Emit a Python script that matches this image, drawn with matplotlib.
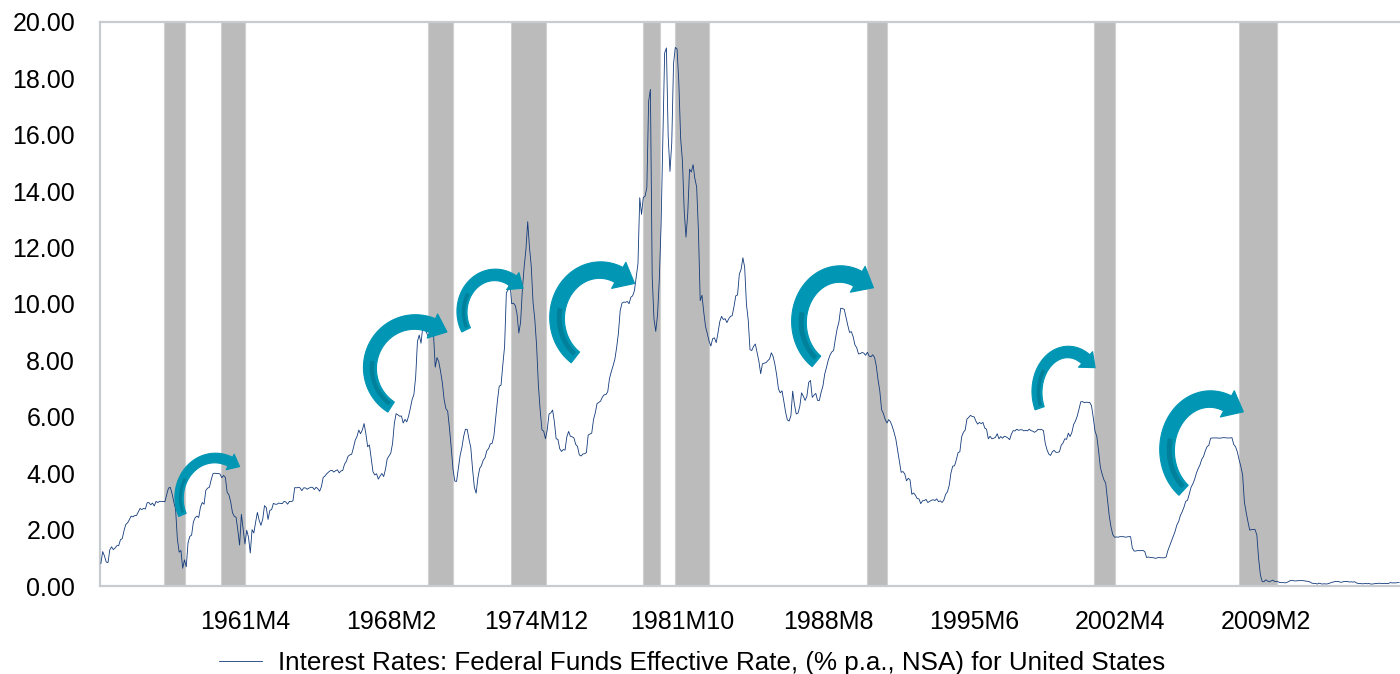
import numpy as np
import matplotlib
matplotlib.use('Agg')
import matplotlib.pyplot as plt
from matplotlib.patches import Polygon

plt.rcParams['font.family'] = ['Liberation Sans', 'DejaVu Sans']

# monthly effective fed funds rate, % p.a., starting 1954M7
start_year, start_month = 1954, 7
fed_funds = [
    0.80, 1.22, 1.07, 0.85, 0.83, 1.28,
    1.39, 1.29, 1.35, 1.43, 1.43, 1.64, 1.68, 1.96, 2.18, 2.24, 2.35, 2.48,
    2.45, 2.50, 2.50, 2.62, 2.75, 2.71, 2.75, 2.73, 2.95, 2.96, 2.88, 2.94,
    2.84, 3.00, 2.96, 3.00, 3.00, 3.00, 2.99, 3.24, 3.47, 3.50, 3.28, 2.98,
    2.72, 1.67, 1.20, 1.26, 0.63, 0.93, 0.68, 1.53, 1.76, 1.80, 2.27, 2.42,
    2.48, 2.43, 2.80, 2.96, 2.90, 3.39, 3.47, 3.50, 3.76, 3.98, 4.00, 3.99,
    3.99, 3.97, 3.84, 3.92, 3.85, 3.32, 3.23, 2.98, 2.60, 2.47, 2.44, 1.98,
    1.45, 2.54, 2.02, 1.49, 1.98, 1.73, 1.17, 2.00, 1.88, 2.26, 2.61, 2.33,
    2.15, 2.37, 2.85, 2.78, 2.36, 2.68, 2.71, 2.93, 2.90, 2.90, 2.94, 2.93,
    2.92, 3.00, 2.98, 2.90, 3.00, 2.99, 3.02, 3.49, 3.48, 3.50, 3.48, 3.38,
    3.48, 3.48, 3.43, 3.47, 3.50, 3.50, 3.42, 3.50, 3.45, 3.36, 3.52, 3.85,
    3.90, 3.98, 4.04, 4.09, 4.10, 4.04, 4.09, 4.12, 4.01, 4.08, 4.10, 4.32,
    4.42, 4.60, 4.65, 4.67, 4.90, 5.17, 5.30, 5.53, 5.40, 5.53, 5.76, 5.40,
    4.94, 5.00, 4.53, 4.05, 3.94, 3.98, 3.79, 3.90, 3.99, 3.88, 4.13, 4.51,
    4.61, 4.71, 5.05, 5.76, 6.11, 6.07, 6.02, 6.03, 5.78, 5.91, 5.82, 6.02,
    6.30, 6.61, 6.79, 7.41, 8.67, 8.90, 8.61, 9.19, 9.15, 9.00, 8.85, 8.97,
    8.98, 8.98, 7.76, 8.10, 7.95, 7.61, 7.21, 6.61, 6.29, 6.20, 5.60, 4.90,
    4.14, 3.72, 3.71, 4.16, 4.63, 4.91, 5.31, 5.56, 5.55, 5.20, 4.91, 4.14,
    3.50, 3.29, 3.83, 4.17, 4.27, 4.46, 4.55, 4.80, 4.87, 5.04, 5.06, 5.33,
    5.94, 6.58, 7.09, 7.12, 7.84, 8.49, 10.40, 10.50, 10.78, 10.01, 10.03, 9.95,
    9.65, 8.97, 9.35, 10.51, 11.31, 11.93, 12.92, 12.01, 11.34, 10.06, 9.45, 8.53,
    7.13, 6.24, 5.54, 5.49, 5.22, 5.55, 6.10, 6.14, 6.24, 5.82, 5.22, 5.20,
    4.87, 4.77, 4.84, 4.82, 5.29, 5.48, 5.31, 5.29, 5.25, 5.02, 4.95, 4.65,
    4.61, 4.68, 4.69, 4.73, 5.35, 5.39, 5.42, 5.90, 6.14, 6.47, 6.51, 6.56,
    6.70, 6.78, 6.79, 6.89, 7.36, 7.60, 7.81, 8.04, 8.45, 8.96, 9.76, 10.03,
    10.07, 10.06, 10.09, 10.01, 10.24, 10.29, 10.47, 10.94, 11.43, 13.77, 13.18, 13.78,
    13.82, 14.13, 17.19, 17.61, 10.98, 9.47, 9.03, 9.61, 10.87, 12.81, 15.85, 18.90,
    19.08, 15.93, 14.70, 15.72, 18.52, 19.10, 19.04, 17.82, 15.87, 15.08, 13.31, 12.37,
    13.22, 14.78, 14.68, 14.94, 14.45, 14.15, 12.59, 10.12, 10.31, 9.71, 9.20, 8.95,
    8.68, 8.51, 8.77, 8.80, 8.63, 8.98, 9.37, 9.56, 9.45, 9.48, 9.34, 9.47,
    9.56, 9.59, 9.91, 10.29, 10.32, 11.06, 11.23, 11.64, 11.30, 9.99, 9.43, 8.38,
    8.35, 8.50, 8.58, 8.27, 7.97, 7.53, 7.88, 7.90, 7.92, 7.99, 8.05, 8.27,
    8.14, 7.86, 7.48, 6.99, 6.85, 6.92, 6.56, 6.17, 5.89, 5.85, 6.04, 6.91,
    6.43, 6.10, 6.13, 6.37, 6.85, 6.73, 6.58, 6.73, 7.22, 7.29, 6.69, 6.77,
    6.83, 6.58, 6.58, 6.87, 7.09, 7.51, 7.75, 8.01, 8.19, 8.30, 8.35, 8.76,
    9.12, 9.36, 9.85, 9.84, 9.81, 9.53, 9.24, 8.99, 9.02, 8.84, 8.55, 8.45,
    8.23, 8.24, 8.28, 8.26, 8.18, 8.29, 8.15, 8.13, 8.20, 8.11, 7.81, 7.31,
    6.91, 6.25, 6.12, 5.91, 5.78, 5.90, 5.82, 5.66, 5.45, 5.21, 4.81, 4.43,
    4.03, 4.06, 3.98, 3.73, 3.82, 3.76, 3.25, 3.30, 3.22, 3.10, 3.09, 2.92,
    3.02, 3.03, 3.07, 2.96, 3.00, 3.04, 3.06, 3.03, 3.09, 2.99, 3.02, 2.96,
    3.05, 3.25, 3.34, 3.56, 4.01, 4.25, 4.26, 4.47, 4.73, 4.76, 5.29, 5.45,
    5.53, 5.92, 5.98, 6.05, 6.01, 6.00, 5.85, 5.74, 5.80, 5.76, 5.80, 5.60,
    5.56, 5.22, 5.31, 5.22, 5.24, 5.27, 5.40, 5.22, 5.30, 5.24, 5.31, 5.29,
    5.25, 5.19, 5.39, 5.51, 5.50, 5.56, 5.52, 5.54, 5.54, 5.50, 5.52, 5.50,
    5.56, 5.51, 5.49, 5.45, 5.49, 5.56, 5.54, 5.55, 5.51, 5.07, 4.83, 4.68,
    4.63, 4.76, 4.81, 4.74, 4.74, 4.76, 4.99, 5.07, 5.22, 5.20, 5.42, 5.30,
    5.45, 5.73, 5.85, 6.02, 6.27, 6.53, 6.54, 6.50, 6.52, 6.51, 6.51, 6.40,
    5.98, 5.49, 5.31, 4.80, 4.21, 3.97, 3.77, 3.65, 3.07, 2.49, 2.09, 1.82,
    1.73, 1.74, 1.73, 1.75, 1.75, 1.75, 1.73, 1.74, 1.75, 1.75, 1.34, 1.24,
    1.24, 1.26, 1.25, 1.26, 1.26, 1.22, 1.01, 1.03, 1.01, 1.01, 1.00, 0.98,
    1.00, 1.01, 1.00, 1.00, 1.00, 1.03, 1.26, 1.43, 1.61, 1.76, 1.93, 2.16,
    2.28, 2.50, 2.63, 2.79, 3.00, 3.04, 3.26, 3.50, 3.62, 3.78, 4.00, 4.16,
    4.29, 4.49, 4.59, 4.79, 4.94, 4.99, 5.24, 5.25, 5.25, 5.25, 5.25, 5.24,
    5.25, 5.26, 5.26, 5.25, 5.25, 5.25, 5.26, 5.02, 4.94, 4.76, 4.49, 4.24,
    3.94, 2.98, 2.61, 2.28, 1.98, 2.00, 2.01, 2.00, 1.81, 0.97, 0.39, 0.16,
    0.15, 0.22, 0.18, 0.15, 0.18, 0.21, 0.16, 0.16, 0.15, 0.12, 0.12, 0.12,
    0.11, 0.13, 0.16, 0.20, 0.20, 0.18, 0.18, 0.19, 0.19, 0.19, 0.19, 0.18,
    0.17, 0.16, 0.14, 0.10, 0.09, 0.09, 0.07, 0.10, 0.08, 0.07, 0.08, 0.07,
    0.08, 0.10, 0.13, 0.14, 0.16, 0.16, 0.16, 0.13, 0.14, 0.16, 0.16, 0.16,
    0.14, 0.15, 0.14, 0.15, 0.11, 0.09, 0.09, 0.08, 0.08, 0.09, 0.08, 0.09,
    0.07, 0.07, 0.08, 0.09, 0.09, 0.10, 0.09, 0.09, 0.09, 0.09, 0.09, 0.12,
    0.11, 0.11, 0.11, 0.12, 0.12,
]

x_tick_labels = ['1961M4', '1968M2', '1974M12', '1981M10',
                 '1988M8', '1995M6', '2002M4', '2009M2']
y_ticks = [0, 2, 4, 6, 8, 10, 12, 14, 16, 18, 20]

# NBER recessions, peak and trough months
recession_peaks = ['1957M8', '1960M4', '1969M12', '1973M11', '1980M1',
                   '1981M7', '1990M7', '2001M3', '2007M12']
recession_troughs = ['1958M4', '1961M2', '1970M11', '1975M3', '1980M7',
                     '1982M11', '1991M3', '2001M11', '2009M6']

series_name = ('Interest Rates: Federal Funds Effective Rate, '
               '(% p.a., NSA) for United States')

# curved arrows: centre (month index, rate), radii in px, tail/head angle, width px
arrows = [
    (64.2, 3.12, 36, 40, 205, 65, 10),
    (176.6, 7.73, 45, 46, 238, 67, 15),
    (221.6, 9.72, 33, 37, 209, 57, 12),
    (280.7, 9.50, 43, 48, 235, 64, 17),
    (415.6, 9.36, 41, 48, 235, 64, 17),
    (543.8, 6.88, 31, 40, 204, 55, 12),
    (623.7, 4.82, 43, 51, 232, 66, 17),
]

LINE_COLOR = '#123a7a'
BAR_COLOR = '#bbbbbb'
ARROW_COLOR = '#0096b4'
ARROW_DARK = '#00788f'
SPINE_COLOR = '#c8ccd0'


def month_index(label):
    y, m = label.split('M')
    return (int(y) - start_year) * 12 + int(m) - start_month


def ellipse_band(c, rx, ry, th, off_lo, off_hi):
    # points of a band around an elliptical arc, offsets along the normal
    px = c[0] + rx * np.cos(th)
    py = c[1] + ry * np.sin(th)
    nx = np.cos(th) / rx
    ny = np.sin(th) / ry
    nn = np.hypot(nx, ny)
    nx, ny = nx / nn, ny / nn
    lo = np.column_stack([px + nx * off_lo, py + ny * off_lo])
    hi = np.column_stack([px + nx * off_hi, py + ny * off_hi])
    return lo, hi


def curved_arrow(ax, cx, cy, rx, ry, a_tail, a_head, width):
    c = ax.transData.transform((cx, cy))
    n = 90
    th = np.radians(np.linspace(a_tail, a_head, n))
    s = np.linspace(0, 1, n)
    w = width * (0.8 + 0.2 * s)
    inner, outer = ellipse_band(c, rx, ry, th, -w / 2, w / 2)

    # arrow head at the end of the arc
    te = th[-1]
    pe = np.array([c[0] + rx * np.cos(te), c[1] + ry * np.sin(te)])
    t = np.array([rx * np.sin(te), -ry * np.cos(te)])
    t /= np.hypot(*t)
    nv = np.array([np.cos(te) / rx, np.sin(te) / ry])
    nv /= np.hypot(*nv)
    head = [pe + nv * width * 0.85, pe + t * width * 1.05, pe - nv * width * 0.9]

    pts = np.vstack([outer, head, inner[::-1]])
    pts = ax.transData.inverted().transform(pts)
    ax.add_patch(Polygon(pts, closed=True, fc=ARROW_COLOR, ec=ARROW_COLOR,
                         lw=0.8, joinstyle='round', zorder=4))

    # darker shading along the inner side of the tail
    k = int(n * 0.4)
    th2 = th[2:k]
    w2 = w[2:k]
    lo, hi = ellipse_band(c, rx, ry, th2, -w2 * 0.32, w2 * 0.02)
    pts = np.vstack([hi, lo[::-1]])
    pts = ax.transData.inverted().transform(pts)
    ax.add_patch(Polygon(pts, closed=True, fc=ARROW_DARK, ec='none',
                         alpha=0.7, zorder=5))


fig = plt.figure(figsize=(14, 6.74), dpi=100)
ax = fig.add_axes([100 / 1400, 88 / 674, 1300 / 1400, 564 / 674])

x = np.arange(len(fed_funds))
ax.set_xlim(-0.5, len(fed_funds) - 0.5)
ax.set_ylim(0, 20)

for p, t in zip(recession_peaks, recession_troughs):
    ax.axvspan(month_index(p) - 1.3, month_index(t) + 2.2, ymin=0, ymax=1,
               fc=BAR_COLOR, ec='#d0d0d0', lw=0.8, zorder=1)

ax.plot(x, fed_funds, color=LINE_COLOR, lw=0.6, zorder=3, label=series_name)

for spec in arrows:
    curved_arrow(ax, *spec)

ax.set_yticks(y_ticks)
ax.set_yticklabels(['%.2f' % v for v in y_ticks])
ax.set_xticks([month_index(lb) for lb in x_tick_labels])
ax.set_xticklabels(x_tick_labels)
ax.tick_params(axis='y', length=0, pad=18, labelsize=18)
ax.tick_params(axis='x', length=0, pad=17.5, labelsize=18)

for side in ['left', 'bottom', 'top']:
    ax.spines[side].set_color(SPINE_COLOR)
    ax.spines[side].set_linewidth(1.6)
ax.spines['right'].set_visible(False)

ax.legend(loc='center', bbox_to_anchor=(692 / 1400, 11 / 674),
          bbox_transform=fig.transFigure, frameon=False, fontsize=18.7,
          handlelength=1.65, handletextpad=0.6)

fig.savefig('out.png', dpi=100)
